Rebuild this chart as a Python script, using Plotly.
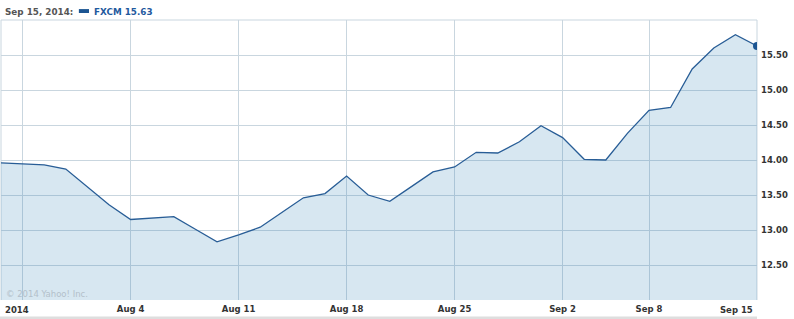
import plotly.graph_objects as go

# ---- data ----
dates = ["2014-07-25", "2014-07-28", "2014-07-29", "2014-07-30", "2014-07-31", "2014-08-01",
         "2014-08-04", "2014-08-05", "2014-08-06", "2014-08-07", "2014-08-08",
         "2014-08-11", "2014-08-12", "2014-08-13", "2014-08-14", "2014-08-15",
         "2014-08-18", "2014-08-19", "2014-08-20", "2014-08-21", "2014-08-22",
         "2014-08-25", "2014-08-26", "2014-08-27", "2014-08-28", "2014-08-29",
         "2014-09-02", "2014-09-03", "2014-09-04", "2014-09-05",
         "2014-09-08", "2014-09-09", "2014-09-10", "2014-09-11", "2014-09-12",
         "2014-09-15"]
close = [13.96, 13.95, 13.93, 13.87, 13.62, 13.36,
         13.15, 13.17, 13.19, 13.01, 12.83,
         12.93, 13.04, 13.25, 13.46, 13.52,
         13.77, 13.50, 13.41, 13.62, 13.83,
         13.90, 14.11, 14.10, 14.26, 14.49,
         14.32, 14.01, 14.00, 14.38,
         14.71, 14.75, 15.30, 15.60, 15.79,
         15.63]
x_tick_dates = ["2014-07-28", "2014-08-04", "2014-08-11", "2014-08-18", "2014-08-25",
                "2014-09-02", "2014-09-08", "2014-09-15"]
x_tick_text = ["", "Aug 4", "Aug 11", "Aug 18", "Aug 25", "Sep 2", "Sep 8", ""]
y_tick_vals = [12.5, 13.0, 13.5, 14.0, 14.5, 15.0, 15.5]
y_tick_text = ["12.50", "13.00", "13.50", "14.00", "14.50", "15.00", "15.50"]
ticker = "FXCM"
header_date = "Sep 15, 2014:"

LINE = "#285d96"
GRID = "#c9d6df"
FONT = "DejaVu Sans"

fig = go.Figure()
fig.add_trace(go.Scatter(
    x=dates, y=close, mode="lines",
    line=dict(color=LINE, width=1.3),
    fill="tozeroy", fillcolor="rgba(45,125,180,0.19)",
    hoverinfo="skip", showlegend=False))
fig.add_trace(go.Scatter(
    x=[dates[-1]], y=[close[-1]], mode="markers",
    marker=dict(color="#1c5592", size=8),
    hoverinfo="skip", showlegend=False))

fig.update_layout(
    width=794, height=319,
    margin=dict(l=1, r=37, t=20, b=19, pad=0),
    paper_bgcolor="white", plot_bgcolor="white",
    font=dict(family=FONT, color="#333333"),
    xaxis=dict(type="category", categoryorder="array", categoryarray=dates,
               range=[0, len(dates) - 1],
               tickmode="array", tickvals=x_tick_dates, ticktext=x_tick_text,
               showgrid=True, gridcolor=GRID, gridwidth=1,
               zeroline=False, showline=False, ticks="",
               tickfont=dict(family=FONT, size=8.5, color="#333333", weight="bold"),
               ticklabelstandoff=2),
    yaxis=dict(side="right", range=[12, 16],
               tickmode="array", tickvals=y_tick_vals, ticktext=y_tick_text,
               showgrid=True, gridcolor=GRID, gridwidth=1,
               zeroline=False, showline=False, ticks="",
               tickfont=dict(family=FONT, size=8.5, color="#333333", weight="bold"),
               ticklabelstandoff=3),
)

# plot frame (left, top, right)
fig.add_shape(type="line", xref="paper", yref="paper", x0=0, x1=0, y0=0, y1=1,
              line=dict(color=GRID, width=1), layer="below")
fig.add_shape(type="line", xref="paper", yref="paper", x0=0, x1=1, y0=1, y1=1,
              line=dict(color=GRID, width=1), layer="below")
fig.add_shape(type="line", xref="paper", yref="paper", x0=1, x1=1, y0=0, y1=1,
              line=dict(color=GRID, width=1), layer="below")
# bottom gray band
fig.add_shape(type="rect", xref="paper", yref="paper", x0=-0.002, x1=1.0,
              y0=-0.08, y1=-0.059, line=dict(width=0), fillcolor="#dedede")
# legend swatch
fig.add_shape(type="rect", xref="paper", yref="paper", x0=0.103, x1=0.1164,
              y0=1.025, y1=1.039, line=dict(width=0), fillcolor="#1c5592")

fig.add_annotation(xref="paper", yref="paper", x=0.002, y=1.029, xanchor="left", yanchor="middle",
                   text=header_date, showarrow=False,
                   font=dict(family=FONT, size=8.8, color="#555555", weight="bold"))
fig.add_annotation(xref="paper", yref="paper", x=0.121, y=1.029, xanchor="left", yanchor="middle",
                   text=f"{ticker} {close[-1]:.2f}", showarrow=False,
                   font=dict(family=FONT, size=8.8, color="#1f5a9e", weight="bold"))
fig.add_annotation(xref="paper", yref="paper", x=0.004, y=0.022, xanchor="left", yanchor="middle",
                   text="© 2014 Yahoo! Inc.", showarrow=False,
                   font=dict(family=FONT, size=8.5, color="#b3c0ca"))
# end labels of the x axis, pushed inside the plot edges
fig.add_annotation(xref="paper", yref="paper", x=0.002, y=-0.036, xanchor="left", yanchor="middle",
                   text="2014", showarrow=False,
                   font=dict(family=FONT, size=8.5, color="#333333", weight="bold"))
fig.add_annotation(xref="paper", yref="paper", x=0.998, y=-0.036, xanchor="right", yanchor="middle",
                   text="Sep 15", showarrow=False,
                   font=dict(family=FONT, size=8.5, color="#333333", weight="bold"))

fig.write_html("out.html")
